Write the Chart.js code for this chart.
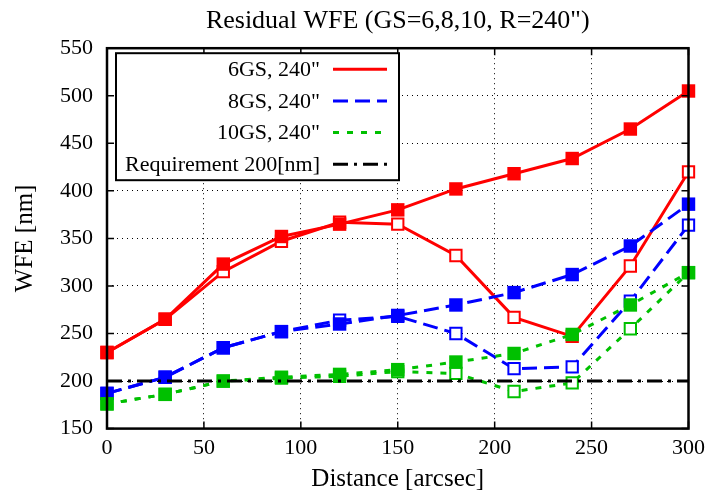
<!DOCTYPE html>
<html lang="en">
<head>
<meta charset="UTF-8" />
<title>Residual WFE</title>
<script src="https://cdn.jsdelivr.net/npm/chart.js"></script>
<style>
  html, body { margin: 0; padding: 0; background: #fff; }
  #wrap { width: 711px; height: 490px; }
</style>
</head>
<body>
<div id="wrap"><canvas id="wfeChart"></canvas></div>
<script>
  const distance = [0, 30, 60, 90, 120, 150, 180, 210, 240, 270, 300];
  const gs6Filled = [230, 265, 323, 352, 365, 380, 402, 418, 434, 465, 505];
  const gs6Open = [230, 265, 315, 347, 367, 365, 332, 267, 247, 321, 420];
  const gs8Filled = [187, 204, 235, 252, 260, 269, 280, 293, 312, 342, 386];
  const gs8Open = [187, 204, 235, 252, 264, 268, 250, 213, 215, 284, 364];
  const gs10Filled = [176, 186, 200, 204, 207, 212, 220, 229, 249, 280, 314];
  const gs10Open = [176, 186, 200, 203, 205, 210, 208, 189, 198, 255, 314];
  const requirement = [200, 200, 200, 200, 200, 200, 200, 200, 200, 200, 200];
  const legendLabels = ['6GS, 240"', '8GS, 240"', '10GS, 240"', 'Requirement 200[nm]'];

  const RED = '#ff0000', BLUE = '#0000ff', GREEN = '#00c000';
  const SERIF = "'Liberation Serif', 'DejaVu Serif', serif";

  const pts = arr => arr.map((v, i) => ({ x: distance[i], y: v }));

  function series(data, color, dash, open) {
    return {
      data: pts(data),
      borderColor: color,
      borderWidth: 3,
      borderDash: dash,
      backgroundColor: open ? '#fff' : color,
      pointStyle: 'rect',
      pointRadius: open ? 8 : 9.5,
      pointHoverRadius: open ? 8 : 9.5,
      pointBorderWidth: open ? 2 : 0,
      pointBorderColor: color,
      pointBackgroundColor: open ? '#fff' : color,
      tension: 0,
      clip: false
    };
  }

  // legend box drawn gnuplot style: text right aligned, sample line on the right
  const legendBox = {
    id: 'legendBox',
    afterDraw(chart) {
      const ctx = chart.ctx;
      const a = chart.chartArea;
      const x0 = a.left + 9, y0 = a.top + 5, w = 283, h = 127;
      const styles = [
        { c: RED, d: [] },
        { c: BLUE, d: [15, 7] },
        { c: GREEN, d: [6, 8] },
        { c: '#000', d: [15, 6, 3, 6] }
      ];
      ctx.save();
      ctx.fillStyle = '#fff';
      ctx.fillRect(x0, y0, w, h);
      ctx.lineWidth = 2;
      ctx.strokeStyle = '#000';
      ctx.setLineDash([]);
      ctx.strokeRect(x0, y0, w, h);
      ctx.font = '22px ' + SERIF;
      ctx.textAlign = 'right';
      ctx.textBaseline = 'middle';
      legendLabels.forEach((lab, i) => {
        const y = y0 + 16 + i * 31.7;
        ctx.fillStyle = '#000';
        ctx.fillText(lab, x0 + 204, y + 1);
        ctx.beginPath();
        ctx.lineWidth = 3;
        ctx.strokeStyle = styles[i].c;
        ctx.setLineDash(styles[i].d);
        ctx.moveTo(x0 + 217, y);
        ctx.lineTo(x0 + 271, y);
        ctx.stroke();
      });
      ctx.restore();
    }
  };

  // full frame with inward ticks on all four sides
  const frame = {
    id: 'frame',
    afterDatasetsDraw(chart) {
      const ctx = chart.ctx;
      const a = chart.chartArea;
      const xs = chart.scales.x, ys = chart.scales.y;
      ctx.save();
      ctx.setLineDash([]);
      ctx.strokeStyle = '#000';
      ctx.lineWidth = 1.5;
      xs.ticks.forEach(t => {
        const px = xs.getPixelForValue(t.value);
        ctx.beginPath();
        ctx.moveTo(px, a.bottom); ctx.lineTo(px, a.bottom - 7);
        ctx.moveTo(px, a.top); ctx.lineTo(px, a.top + 7);
        ctx.stroke();
      });
      ys.ticks.forEach(t => {
        const py = ys.getPixelForValue(t.value);
        ctx.beginPath();
        ctx.moveTo(a.left, py); ctx.lineTo(a.left + 7, py);
        ctx.moveTo(a.right, py); ctx.lineTo(a.right - 7, py);
        ctx.stroke();
      });
      ctx.lineWidth = 2.5;
      ctx.strokeRect(a.left, a.top, a.right - a.left, a.bottom - a.top);
      ctx.restore();
    }
  };

  // Chart.js paints dataset 0 last, so the list runs from top layer to bottom layer
  new Chart(document.getElementById('wfeChart'), {
    type: 'line',
    data: {
      datasets: [
        Object.assign(series(requirement, '#000', [15, 6, 3, 6], false), { pointRadius: 0, pointHoverRadius: 0 }),
        series(gs10Filled, GREEN, [6, 8], false),
        series(gs10Open, GREEN, [6, 8], true),
        series(gs8Filled, BLUE, [15, 7], false),
        series(gs8Open, BLUE, [15, 7], true),
        series(gs6Filled, RED, [], false),
        series(gs6Open, RED, [], true)
      ]
    },
    options: {
      responsive: true,
      maintainAspectRatio: false,
      animation: false,
      layout: { padding: { left: 10, right: 19, top: 0, bottom: -4 } },
      plugins: {
        legend: { display: false },
        tooltip: { enabled: false },
        title: {
          display: true,
          fullSize: false,
          text: 'Residual WFE (GS=6,8,10, R=240")',
          color: '#000',
          font: { family: SERIF, size: 26, weight: 'normal' },
          padding: { top: 6, bottom: 11 }
        }
      },
      scales: {
        x: {
          type: 'linear',
          min: 0, max: 300,
          ticks: { stepSize: 50, color: '#000', font: { family: SERIF, size: 22 }, padding: 6 },
          grid: { color: '#000', lineWidth: 1, drawTicks: false },
          border: { display: false, dash: [1, 4] },
          title: { display: true, text: 'Distance [arcsec]', color: '#000', font: { family: SERIF, size: 25 }, padding: { top: -3, bottom: 0 } }
        },
        y: {
          min: 150, max: 550,
          ticks: { stepSize: 50, color: '#000', font: { family: SERIF, size: 22 }, padding: 14 },
          grid: { color: '#000', lineWidth: 1, drawTicks: false },
          border: { display: false, dash: [1, 4] },
          title: { display: true, text: 'WFE [nm]', color: '#000', font: { family: SERIF, size: 25 }, padding: { top: 0, bottom: 6 } }
        }
      }
    },
    plugins: [frame, legendBox]
  });
</script>
</body>
</html>
